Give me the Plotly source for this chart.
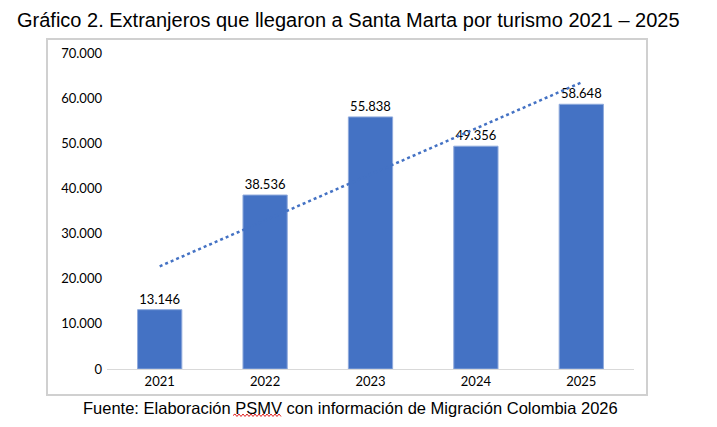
import numpy as np
import plotly.graph_objects as go

# Datos del gráfico
anios = ["2021", "2022", "2023", "2024", "2025"]
extranjeros = [13146, 38536, 55838, 49356, 58648]

titulo = "Gráfico 2. Extranjeros que llegaron a Santa Marta por turismo 2021 – 2025"
fuente = "Fuente: Elaboración PSMV con información de Migración Colombia 2026"

azul = "#4472C4"

# Línea de tendencia lineal (como la de Excel)
xs = np.arange(1, len(anios) + 1)
m, b = np.polyfit(xs, extranjeros, 1)
tendencia = m * xs + b

# la página tiene 8px de margen en el body, se compensa en el tamaño
OFF = 8
W, H = 717 - OFF, 427 - OFF
L, T, R, B = 107, 53, 634, 369  # área del gráfico en la página


def px(x):
    return (x - L) / (R - L)


def py(y):
    return (B - y) / (B - T)


fig = go.Figure()
fig.add_trace(go.Bar(x=anios, y=extranjeros, marker_color=azul,
                     marker_line=dict(color="#8FAADC", width=1),
                     texttemplate="%{y:,d}", textposition="outside",
                     textfont=dict(family="Lato", size=13, color="black"),
                     cliponaxis=False))
fig.add_trace(go.Scatter(x=anios, y=tendencia, mode="lines",
                         line=dict(color=azul, width=2.5, dash="dot")))

fig.update_layout(
    width=W, height=H,
    margin=dict(l=L - OFF, r=W - (R - OFF), t=T - OFF, b=H - (B - OFF)),
    plot_bgcolor="white", paper_bgcolor="white",
    separators=",.",
    showlegend=False,
    bargap=0.58,
    font=dict(family="Lato", size=13, color="black"),
)
fig.update_yaxes(range=[0, 70000], dtick=10000, tickformat=",d",
                 showgrid=False, zeroline=False, showline=False,
                 ticks="", ticklabelstandoff=4, tickfont=dict(size=13))
fig.update_xaxes(showgrid=False, showline=True, linecolor="#D9D9D9",
                 linewidth=1, ticks="", tickfont=dict(size=13))

# Marco del gráfico
fig.add_shape(type="rect", xref="paper", yref="paper",
              x0=px(47), x1=px(647), y0=py(395), y1=py(39),
              line=dict(color="#D0D0D0", width=2), fillcolor="rgba(0,0,0,0)")

fig.add_annotation(text=titulo, xref="paper", yref="paper", x=px(348), y=py(20),
                   yanchor="middle", showarrow=False,
                   font=dict(family="Liberation Sans", size=20))
fig.add_annotation(text=fuente, xref="paper", yref="paper", x=px(350), y=py(408),
                   yanchor="middle", showarrow=False,
                   font=dict(family="Liberation Sans", size=16.5))

# subrayado ondulado rojo bajo "PSMV" (corrector ortográfico)
onda = "M %f %f" % (px(233), py(415.5))
xx = 233
k = 0
while xx < 280:
    xx += 2
    k += 1
    onda += " L %f %f" % (px(xx), py(414 if k % 2 else 416.5))
fig.add_shape(type="path", xref="paper", yref="paper", path=onda,
              line=dict(color="#E02020", width=1))

fig.write_html("out.html")
